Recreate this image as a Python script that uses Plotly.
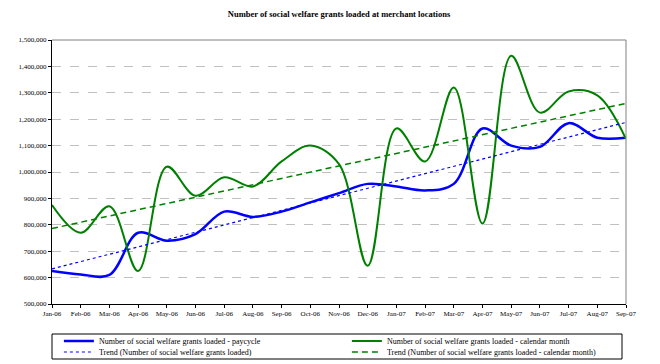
import plotly.graph_objects as go

months = ["Jan-06", "Feb-06", "Mar-06", "Apr-06", "May-06", "Jun-06", "Jul-06",
          "Aug-06", "Sep-06", "Oct-06", "Nov-06", "Dec-06", "Jan-07", "Feb-07",
          "Mar-07", "Apr-07", "May-07", "Jun-07", "Jul-07", "Aug-07", "Sep-07"]

paycycle = [625000, 612000, 610000, 770000, 740000, 765000, 850000,
            830000, 850000, 885000, 920000, 955000, 945000, 930000,
            955000, 1165000, 1100000, 1095000, 1185000, 1130000, 1130000]

calendar_month = [875000, 770000, 870000, 625000, 1020000, 910000, 980000,
                  945000, 1040000, 1100000, 1030000, 645000, 1165000, 1040000,
                  1320000, 805000, 1440000, 1225000, 1305000, 1290000, 1125000]

trend_x = ["Jan-06", "Sep-07"]
trend_paycycle = [633000, 1188000]
trend_calendar = [786000, 1260000]

y_ticks = [500000, 600000, 700000, 800000, 900000, 1000000, 1100000, 1200000,
           1300000, 1400000, 1500000]

FONT = "Liberation Serif"

fig = go.Figure()
fig.add_trace(go.Scatter(
    x=months, y=paycycle, mode="lines", legend="legend",
    name="Number of social welfare grants loaded - paycycle",
    line=dict(color="#0000FF", width=2.5, shape="spline", smoothing=1.0)))
fig.add_trace(go.Scatter(
    x=months, y=calendar_month, mode="lines", legend="legend",
    name="Number of social welfare grants loaded - calendar month",
    line=dict(color="#008000", width=2, shape="spline", smoothing=1.0)))
fig.add_trace(go.Scatter(
    x=trend_x, y=trend_paycycle, mode="lines", legend="legend2",
    name="Trend (Number of social welfare grants loaded)",
    line=dict(color="#0000FF", width=1.2, dash="dot")))
fig.add_trace(go.Scatter(
    x=trend_x, y=trend_calendar, mode="lines", legend="legend2",
    name="Trend (Number of social welfare grants loaded - calendar month)",
    line=dict(color="#008000", width=1.5, dash="6px,4px")))

PLOT_H = 264.0
leg_common = dict(orientation="h", x=0.012, xanchor="left", yanchor="middle",
                  borderwidth=0, bgcolor="rgba(0,0,0,0)",
                  entrywidth=243, entrywidthmode="pixels", tracegroupgap=0,
                  itemwidth=30,
                  font=dict(family=FONT, size=8, color="black"))

fig.update_layout(
    width=660, height=364,
    margin=dict(l=44, r=42, t=32, b=68, autoexpand=False),
    paper_bgcolor="white", plot_bgcolor="white",
    font=dict(family=FONT, size=8, color="black"),
    title=dict(text="<b>Number of social welfare grants loaded at merchant locations</b>",
               x=(44 + 287) / 660, xanchor="center", y=1 - 6 / 364, yanchor="middle",
               font=dict(family=FONT, size=8.5, color="black")),
    showlegend=True,
    legend=dict(y=-37 / PLOT_H, **leg_common),
    legend2=dict(y=-48 / PLOT_H, **leg_common),
    shapes=[
        dict(type="line", xref="paper", yref="paper", x0=0, x1=1, y0=1, y1=1,
             line=dict(color="#808080", width=1)),
        dict(type="line", xref="paper", yref="paper", x0=1, x1=1, y0=0, y1=1,
             line=dict(color="#808080", width=1)),
        dict(type="rect", xref="paper", yref="paper",
             x0=0, x1=570 / 574, y0=-55 / PLOT_H, y1=-30 / PLOT_H,
             line=dict(color="black", width=1), fillcolor="rgba(0,0,0,0)"),
    ],
)

fig.update_xaxes(
    type="category", categoryorder="array", categoryarray=months,
    range=[0, len(months) - 1],
    showline=True, linecolor="black", linewidth=1,
    ticks="outside", ticklen=3, tickcolor="black",
    showgrid=False, zeroline=False,
    tickfont=dict(family=FONT, size=7, color="black"))

fig.update_yaxes(
    range=[500000, 1500000], tickvals=y_ticks,
    tickformat=",d",
    showline=True, linecolor="black", linewidth=1,
    ticks="outside", ticklen=3, tickcolor="black",
    showgrid=True, gridcolor="#c0c0c0", griddash="dash", gridwidth=1,
    zeroline=False,
    tickfont=dict(family=FONT, size=7, color="black"))

fig.write_html("out.html")
